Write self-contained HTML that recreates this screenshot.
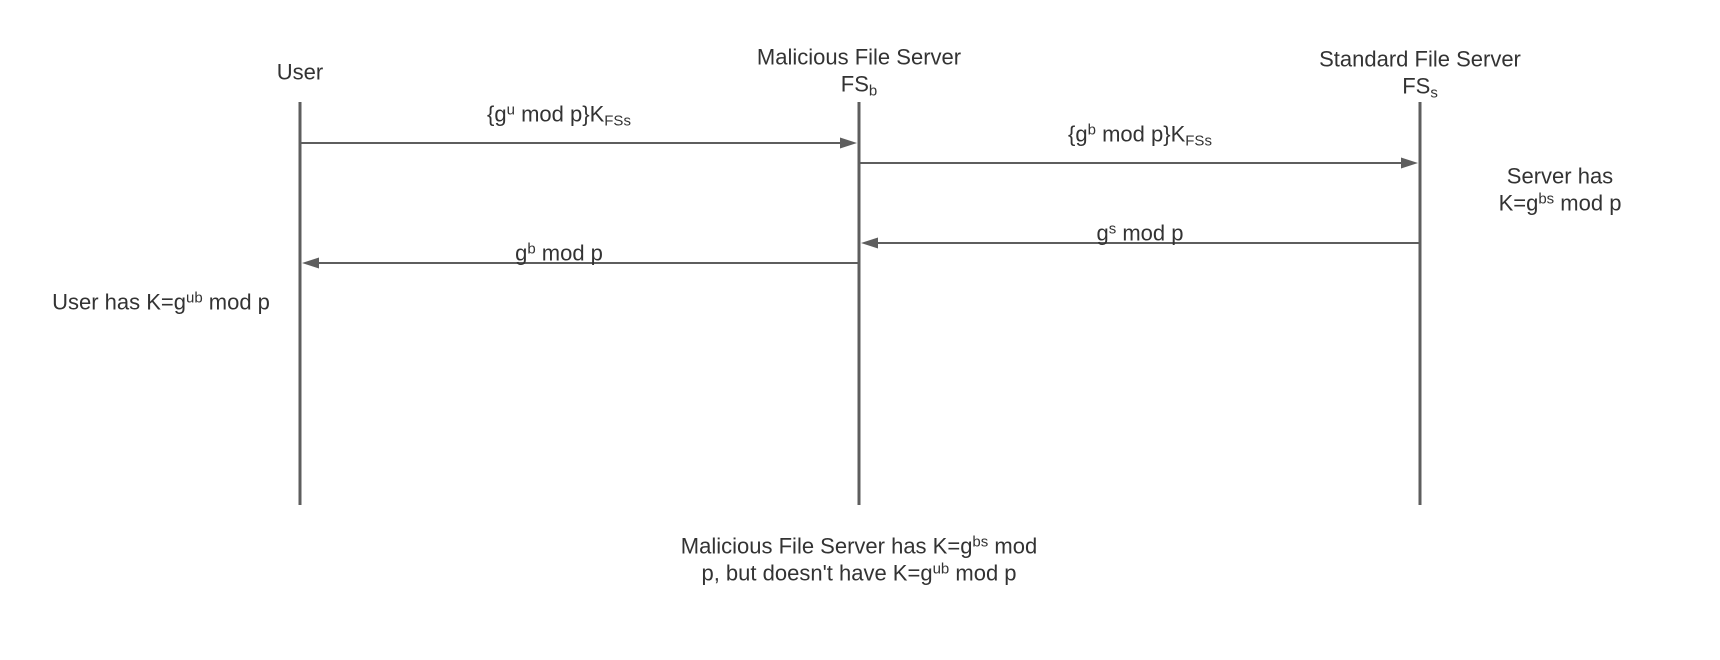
<!DOCTYPE html>
<html><head><meta charset="utf-8"><style>
html,body{margin:0;padding:0;background:#fff;}
#c{position:relative;width:1720px;height:660px;overflow:hidden;font-family:"Liberation Sans",Arial,sans-serif;font-size:22px;color:#333;}
.t{position:absolute;white-space:nowrap;transform:translate(-50%,-50%);line-height:27px;text-align:center;}
sup{font-size:15px;vertical-align:7px;line-height:0;}
sub{font-size:15px;vertical-align:-4px;line-height:0;}
svg{position:absolute;left:0;top:0;}
</style></head><body><div id="c">
<svg width="1720" height="660">
<g stroke="#5e5e5e" stroke-width="3">
<line x1="300" y1="102" x2="300" y2="505"/>
<line x1="859" y1="102" x2="859" y2="505"/>
<line x1="1420" y1="102" x2="1420" y2="505"/>
</g>
<g stroke="#5e5e5e" stroke-width="2">
<line x1="301" y1="143" x2="842" y2="143"/>
<line x1="860" y1="163" x2="1402" y2="163"/>
<line x1="1419" y1="243" x2="876" y2="243"/>
<line x1="858" y1="263" x2="318" y2="263"/>
</g>
<g fill="#5e5e5e">
<polygon points="857,143 840,137.5 840,148.5"/>
<polygon points="1418,163 1401,157.5 1401,168.5"/>
<polygon points="861,243 878,237.5 878,248.5"/>
<polygon points="302,263 319,257.5 319,268.5"/>
</g>
</svg>
<div class="t" style="left:300px;top:72px">User</div>
<div class="t" style="left:859px;top:57px">Malicious File Server</div>
<div class="t" style="left:859px;top:84px">FS<sub>b</sub></div>
<div class="t" style="left:1420px;top:59px">Standard File Server</div>
<div class="t" style="left:1420px;top:86px">FS<sub>s</sub></div>
<div class="t" style="left:559px;top:114px">{g<sup>u</sup> mod p}K<sub>FSs</sub></div>
<div class="t" style="left:1140px;top:134px">{g<sup>b</sup> mod p}K<sub>FSs</sub></div>
<div class="t" style="left:1560px;top:176px">Server has</div>
<div class="t" style="left:1560px;top:203px">K=g<sup>bs</sup> mod p</div>
<div class="t" style="left:1140px;top:233px">g<sup>s</sup> mod p</div>
<div class="t" style="left:559px;top:253px">g<sup>b</sup> mod p</div>
<div class="t" style="left:161px;top:302px">User has K=g<sup>ub</sup> mod p</div>
<div class="t" style="left:859px;top:546px">Malicious File Server has K=g<sup>bs</sup> mod</div>
<div class="t" style="left:859px;top:573px">p, but doesn't have K=g<sup>ub</sup> mod p</div>
</div></body></html>
